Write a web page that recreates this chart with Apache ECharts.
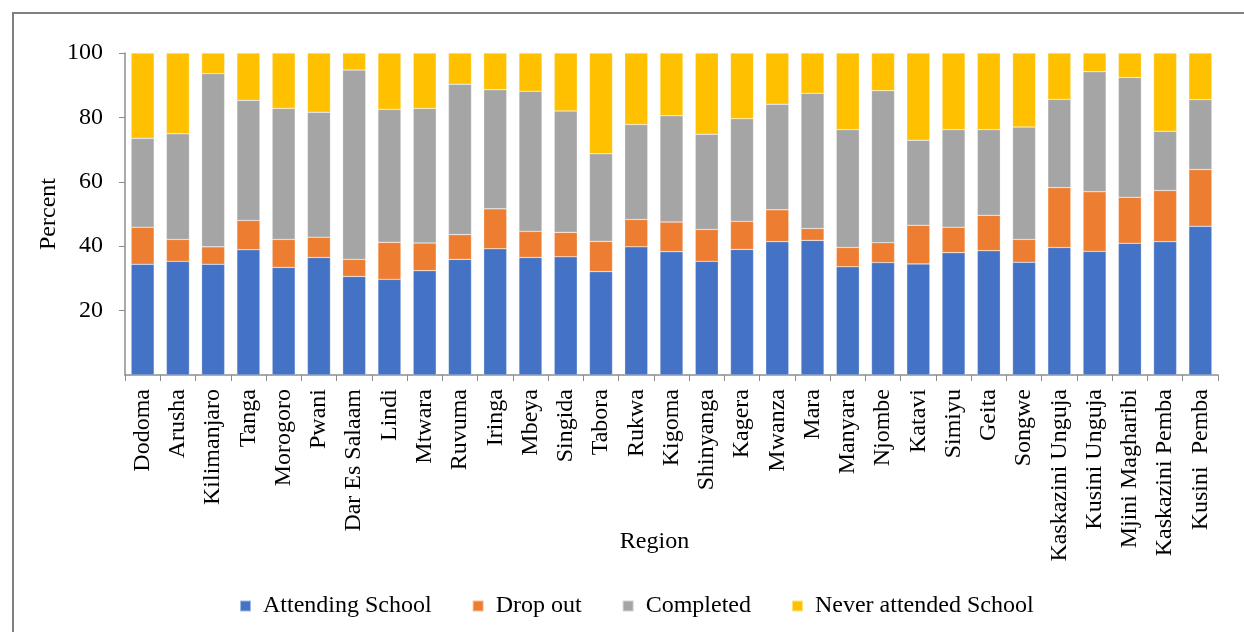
<!DOCTYPE html>
<html>
<head>
<meta charset="utf-8">
<script src="https://cdn.jsdelivr.net/npm/echarts@6/dist/echarts.min.js"></script>
<style>
html,body{margin:0;padding:0;background:#fff;}
#chart{width:1244px;height:632px;}
</style>
</head>
<body>
<div id="chart"></div>
<script>
const regions = ["Dodoma","Arusha","Kilimanjaro","Tanga","Morogoro","Pwani","Dar Es Salaam","Lindi","Mtwara","Ruvuma","Iringa","Mbeya","Singida","Tabora","Rukwa","Kigoma","Shinyanga","Kagera","Mwanza","Mara","Manyara","Njombe","Katavi","Simiyu","Geita","Songwe","Kaskazini Unguja","Kusini Unguja","Mjini Magharibi","Kaskazini Pemba","Kusini  Pemba"];
const attending = [34.4,35.3,34.4,38.9,33.4,36.5,30.6,29.7,32.4,35.9,39.2,36.5,36.7,32.1,39.8,38.3,35.3,39.0,41.4,41.8,33.6,34.9,34.5,38.0,38.6,35.0,39.6,38.4,40.9,41.4,46.2];
const dropout = [11.5,6.8,5.4,9.1,8.7,6.3,5.3,11.5,8.6,7.7,12.4,8.1,7.6,9.4,8.5,9.2,9.9,8.7,9.9,3.7,6.0,6.2,12.0,7.9,11.0,7.1,18.6,18.5,14.3,15.9,17.6];
const completed = [27.6,32.8,53.8,37.3,40.7,38.8,58.8,41.3,41.8,46.7,37.0,43.5,37.7,27.2,29.5,33.0,29.6,31.9,32.8,42.0,36.6,47.2,26.4,30.3,26.6,34.9,27.4,37.3,37.2,18.4,21.7];
const never = [26.5,25.1,6.4,14.7,17.2,18.4,5.3,17.5,17.2,9.7,11.4,11.9,18.0,31.3,22.2,19.5,25.2,20.4,15.9,12.5,23.8,11.7,27.1,23.8,23.8,23.0,14.4,5.8,7.6,24.3,14.5];
const yTicks = [0,20,40,60,80,100];

const font = "'Liberation Serif','Times New Roman',serif";
const FS = 24;
const chart = echarts.init(document.getElementById('chart'));
function mk(name, data, color){
  return {name, type:'bar', stack:'s', data, barWidth:23,
    itemStyle:{color, borderColor:'rgba(255,255,255,0.5)', borderWidth:0.5}};
}
chart.setOption({
  animation:false,
  textStyle:{fontFamily:font},
  graphic:[{type:'polyline', shape:{points:[[13,632],[13,13],[1244,13]]}, style:{stroke:'#808080', lineWidth:2, fill:null}}],
  grid:{left:125, right:26, top:53, bottom:257},
  legend:{top:589, left:234, itemWidth:11, itemHeight:11, itemGap:40, icon:'rect',
    textStyle:{fontFamily:font, fontSize:FS, color:'#000', padding:[0,0,0,7]},
    data:['Attending School','Drop out','Completed','Never attended School']},
  xAxis:{type:'category', data:regions, name:'Region', nameLocation:'middle', nameGap:155, nameMoveOverlap:false,
    nameTextStyle:{fontFamily:font, fontSize:FS, color:'#000', padding:[0,34,0,0]},
    axisLine:{lineStyle:{color:'#8c8c8c', width:1.5}},
    axisTick:{show:true, length:6, lineStyle:{color:'#8c8c8c'}},
    axisLabel:{rotate:90, interval:0, margin:14, fontFamily:font, fontSize:FS, color:'#000'}},
  yAxis:{type:'value', min:yTicks[0], max:yTicks[yTicks.length-1], interval:20, name:'Percent', nameLocation:'middle', nameGap:64, nameRotate:90, nameMoveOverlap:false,
    nameTextStyle:{fontFamily:font, fontSize:FS, color:'#000'},
    splitLine:{show:false},
    axisLine:{show:true, lineStyle:{color:'#8c8c8c', width:1.5}},
    axisTick:{show:true, length:6, lineStyle:{color:'#8c8c8c'}},
    axisLabel:{showMinLabel:false, margin:22, fontFamily:font, fontSize:FS, color:'#000'}},
  series:[
    mk('Attending School', attending, '#4472C4'),
    mk('Drop out', dropout, '#ED7D31'),
    mk('Completed', completed, '#A5A5A5'),
    mk('Never attended School', never, '#FFC000')
  ]
});
</script>
</body>
</html>
